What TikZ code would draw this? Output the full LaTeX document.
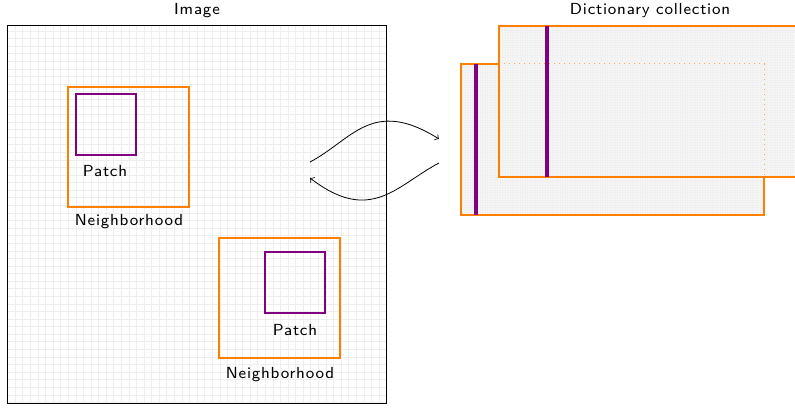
\documentclass[tikz,border=0pt]{standalone}
\usepackage{fontspec}
\newfontfamily\lblfont{lmsans8-regular.otf}[LetterSpace=5]
\usepackage{tikz}
\usetikzlibrary{arrows,positioning}
\definecolor{nborange}{RGB}{255,128,0}
\definecolor{patchpurple}{RGB}{128,0,128}
\definecolor{gridgray}{RGB}{238,238,238}
\tikzstyle{arrow} = [->,>=to,line width=0.4pt,color=black]
\tikzstyle{imgframe} = [rectangle, draw=black, line width=0.5pt, minimum width=189.5pt, minimum height=189pt, inner sep=0pt, outer sep=0pt]
\tikzstyle{nbhd} = [rectangle, draw=nborange, line width=1pt, minimum width=60.5pt, minimum height=60pt, inner sep=0pt, outer sep=0pt]
\tikzstyle{patchbox} = [rectangle, draw=patchpurple, line width=1pt, minimum width=30pt, minimum height=30.5pt, inner sep=0pt, outer sep=0pt]
\tikzstyle{dict} = [rectangle, draw=nborange, line width=1pt, fill=gray!6, minimum width=151.5pt, minimum height=75.5pt, inner sep=0pt, outer sep=0pt]
\tikzstyle{atom} = [draw=patchpurple, line width=1.8pt]
\tikzstyle{lbl} = [font=\lblfont\fontsize{8}{9}\selectfont, inner sep=0pt]

\begin{document}
\begin{tikzpicture}[x=0.5pt, y=0.5pt]
\clip (0,0) rectangle (795,410);
\fill[white] (0,0) rectangle (795,410);

% Image with its grid
\node[imgframe] (img) at (196.5,195) {};
\draw[gridgray, line width=0.3pt, step=3.79pt] (img.south west) grid (img.north east);
\node[imgframe] at (img.center) {};
\node[lbl] (imgtitle) at (197,399) {Image};

% Patches and neighborhoods
\node[nbhd] (nbA) at (128.5,263) {};
\node[patchbox] (patchA) at (106,285.5) {};
\node[lbl] (patchAlbl) at (105,239) {Patch};
\node[lbl] (nbAlbl) at (129,188) {Neighborhood};

\node[nbhd] (nbB) at (279.5,112) {};
\node[patchbox] (patchB) at (295,127) {};
\node[lbl] (patchBlbl) at (295,80) {Patch};
\node[lbl] (nbBlbl) at (280,35) {Neighborhood};

% Dictionaries
\node[dict] (dictA) at (612.5,270.5) {};
\draw[gray!12, line width=0.2pt, step=1.25pt] (dictA.south west) grid (dictA.north east);
\node[dict, fill=none] at (dictA.center) {};
\coordinate (atomAtop) at ([xshift=7.5pt]dictA.north west);
\coordinate (atomAbot) at ([xshift=7.5pt]dictA.south west);
\draw[atom] (atomAtop) -- (atomAbot);

\node[dict] (dictB) at (650.5,308) {};
\draw[gray!12, line width=0.2pt, step=1.25pt] (dictB.south west) grid (dictB.north east);
\draw[nborange!70, line width=0.5pt, dotted] (dictA.north -| dictB.west) -- (dictA.north east) -- (dictA.east |- dictB.south);
\node[dict, fill=none] at (dictB.center) {};
\coordinate (atomBtop) at ([xshift=24pt]dictB.north west);
\coordinate (atomBbot) at ([xshift=24pt]dictB.south west);
\draw[atom] (atomBtop) -- (atomBbot);
\node[lbl] (dicttitle) at (650,399) {Dictionary collection};

% Arrows
\coordinate (imgout) at (310,248);
\coordinate (dictin) at (439,271);
\coordinate (dictout) at (439,247);
\coordinate (imgin) at (310,232);
\draw[arrow] (imgout) .. controls (352,270) and (372,313) .. (dictin);
\draw[arrow] (dictout) .. controls (397,225) and (371,185) .. (imgin);
\end{tikzpicture}
\end{document}
